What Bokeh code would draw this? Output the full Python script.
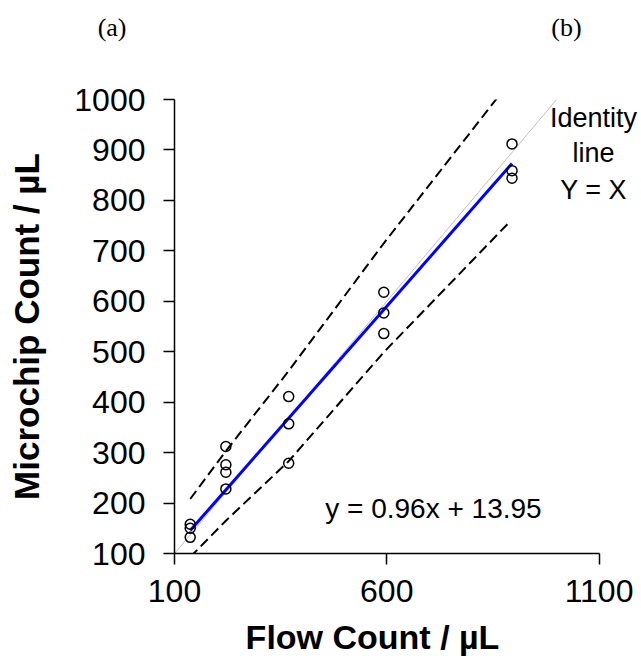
from bokeh.plotting import figure
from bokeh.models import Range1d, Label, FixedTicker
from bokeh.layouts import column
from bokeh.embed import file_html
from bokeh.resources import INLINE

# ---- data ----
flow_count = [137, 137, 137, 221, 221, 221, 221, 369, 369, 369, 593, 593, 593, 895, 895, 895]
chip_count = [158, 150, 132, 312, 276, 261, 228, 411, 357, 279, 618, 577, 536, 912, 859, 844]

fit_slope = 0.96
fit_intercept = 13.95

upper_x = [137, 221, 369, 593, 861]
upper_y = [208, 303, 462, 715, 1004]
lower_x = [137, 221, 369, 593, 889]
lower_y = [93, 165, 283, 499, 757]

identity_x = [100, 1000]
identity_y = [100, 1000]

x_ticks = [100, 600, 1100]
y_ticks = [100, 200, 300, 400, 500, 600, 700, 800, 900, 1000]

FONT = "Liberation Sans"
SERIF = "Liberation Serif"
W = 641
TOP_H = 77
MAIN_H = 539
BOT_H = 40


def strip(height):
    f = figure(width=W, height=height, x_range=Range1d(174, W), y_range=Range1d(0, height),
               output_backend="svg", toolbar_location=None,
               x_axis_type=None, min_border=0)
    f.outline_line_color = None
    f.grid.visible = False
    return f


# ---- panel letters strip ----
top = strip(TOP_H)
ya = top.yaxis[0]
ya.ticker = FixedTicker(ticks=[50])
ya.major_label_overrides = {50: "(a)"}
ya.axis_line_color = None
ya.major_tick_line_color = None
ya.minor_tick_line_color = None
ya.major_tick_out = 0
ya.major_tick_in = 0
ya.major_label_standoff = 48
ya.major_label_text_font = SERIF
ya.major_label_text_font_size = "26px"
ya.major_label_text_color = "black"
top.add_layout(Label(x=566, y=50, text="(b)", text_align="center",
                     text_baseline="middle", text_font=SERIF,
                     text_font_size="26px", text_color="black"))

# ---- main chart ----
p = figure(width=W, height=MAIN_H,
           x_range=Range1d(100, 1200), y_range=Range1d(100, 1000),
           output_backend="svg", toolbar_location=None,
           min_border_left=174, min_border_right=0,
           min_border_top=22, min_border_bottom=63)

p.outline_line_color = None
p.grid.visible = False

for ax in (p.xaxis[0], p.yaxis[0]):
    ax.axis_line_color = "black"
    ax.axis_line_width = 1.5
    ax.major_tick_line_color = "black"
    ax.major_tick_line_width = 1.5
    ax.major_tick_out = 11
    ax.major_tick_in = 0
    ax.minor_tick_line_color = None
    ax.major_label_text_font = FONT
    ax.major_label_text_font_size = "32px"
    ax.major_label_text_color = "black"

p.xaxis[0].ticker = FixedTicker(ticks=x_ticks)
p.yaxis[0].ticker = FixedTicker(ticks=y_ticks)
p.xaxis[0].bounds = (100, 1100)
p.yaxis[0].bounds = (100, 1000)
p.xaxis[0].major_label_standoff = 15
p.yaxis[0].major_label_standoff = 18

yax = p.yaxis[0]
yax.axis_label = "Microchip Count / µL"
yax.axis_label_text_font = FONT
yax.axis_label_text_font_style = "bold"
yax.axis_label_text_font_size = "35px"
yax.axis_label_text_color = "black"
yax.axis_label_standoff = 25

# identity line
p.line(identity_x, identity_y, line_color="#c0c0c0", line_width=1)

# dashed bands
p.line(upper_x, upper_y, line_color="black", line_width=2, line_dash="10 5")
p.line(lower_x, lower_y, line_color="black", line_width=2, line_dash="10 5")

# regression line
fx = [min(flow_count), max(flow_count)]
fy = [fit_slope * v + fit_intercept for v in fx]
p.line(fx, fy, line_color="#0000ff", line_width=3)

# data points
p.scatter(flow_count, chip_count, marker="circle", size=10,
          fill_color=None, line_color="black", line_width=1.5)

# annotations
p.add_layout(Label(x=710, y=190, text="y = 0.96x + 13.95", text_align="center",
                   text_baseline="middle", text_font=FONT,
                   text_font_size="28px", text_color="black"))
for txt, yy in (("Identity", 964), ("line", 893), ("Y = X", 821)):
    p.add_layout(Label(x=1087, y=yy, text=txt, text_align="center",
                       text_baseline="middle", text_font=FONT,
                       text_font_size="27px", text_color="black"))

# ---- x axis title strip ----
bot = strip(BOT_H)
bot.yaxis.visible = False
bot.add_layout(Label(x=372, y=20, text="Flow Count / µL", text_align="center",
                     text_baseline="middle", text_font=FONT, text_font_style="bold",
                     text_font_size="34px", text_color="black"))

open("out.html", "w").write(file_html(column(top, p, bot), INLINE))
